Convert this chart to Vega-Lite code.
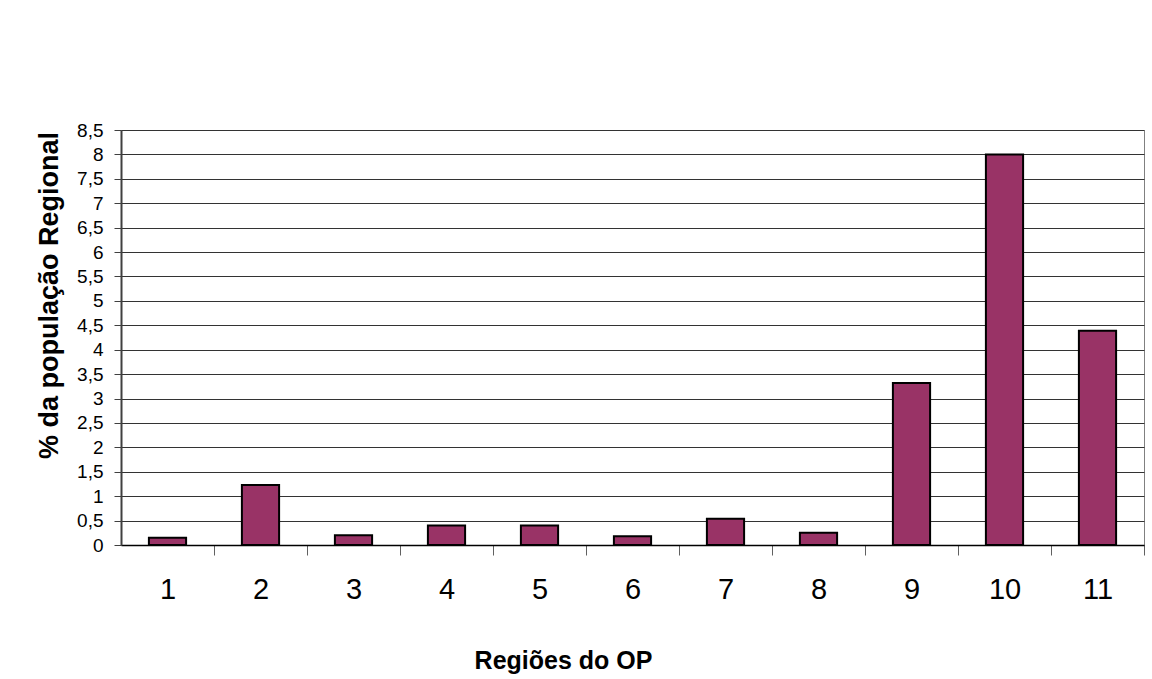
{
  "$schema": "https://vega.github.io/schema/vega-lite/v6.json",
  "autosize": {"type": "none"},
  "padding": {"left": 121, "top": 130, "right": 8, "bottom": 134},
  "width": 1023,
  "height": 415,
  "background": "white",
  "data": {
    "values": [
      {"regiao": "1", "pct": 0.15},
      {"regiao": "2", "pct": 1.23},
      {"regiao": "3", "pct": 0.2},
      {"regiao": "4", "pct": 0.4},
      {"regiao": "5", "pct": 0.4},
      {"regiao": "6", "pct": 0.18},
      {"regiao": "7", "pct": 0.54},
      {"regiao": "8", "pct": 0.25},
      {"regiao": "9", "pct": 3.32},
      {"regiao": "10", "pct": 8.0},
      {"regiao": "11", "pct": 4.39}
    ]
  },
  "mark": {"type": "bar", "color": "#993366", "stroke": "#000000", "strokeWidth": 2},
  "encoding": {
    "x": {
      "field": "regiao",
      "type": "ordinal",
      "sort": null,
      "scale": {"paddingInner": 0.6, "paddingOuter": 0.3},
      "axis": {
        "title": "Regiões do OP",
        "titleFont": "Liberation Sans",
        "titleFontSize": 25,
        "titleFontWeight": "bold",
        "titleColor": "#000000",
        "titleBaseline": "alphabetic",
        "titleX": 442,
        "titleY": 123,
        "labelAngle": 0,
        "labelFont": "Liberation Sans",
        "labelFontSize": 29,
        "labelColor": "#000000",
        "labelPadding": 20,
        "labelBaseline": "top",
        "bandPosition": 1,
        "tickOffset": 28,
        "labelOffset": -28,
        "tickSize": 10,
        "tickColor": "#606060",
        "tickWidth": 1,
        "domainColor": "#000000",
        "domainWidth": 1.5,
        "grid": false
      }
    },
    "y": {
      "field": "pct",
      "type": "quantitative",
      "scale": {"domain": [0, 8.5], "nice": false, "zero": true},
      "axis": {
        "title": "% da população Regional",
        "titleFont": "Liberation Sans",
        "titleFontSize": 27,
        "titleFontWeight": "bold",
        "titleColor": "#000000",
        "titleBaseline": "alphabetic",
        "titleAngle": -90,
        "titleX": -64,
        "titleY": 165,
        "values": [0, 0.5, 1, 1.5, 2, 2.5, 3, 3.5, 4, 4.5, 5, 5.5, 6, 6.5, 7, 7.5, 8, 8.5],
        "labelExpr": "replace(toString(datum.value), '.', ',')",
        "labelFont": "Liberation Sans",
        "labelFontSize": 19,
        "labelColor": "#000000",
        "labelPadding": 11,
        "tickSize": 7,
        "tickColor": "#404040",
        "domainColor": "#404040",
        "domainWidth": 2,
        "grid": true,
        "gridColor": "#333333",
        "gridWidth": 1,
        "gridOpacity": 1
      }
    }
  },
  "config": {
    "view": {"stroke": "#808080", "strokeWidth": 1},
    "axis": {"labelOverlap": false}
  }
}
